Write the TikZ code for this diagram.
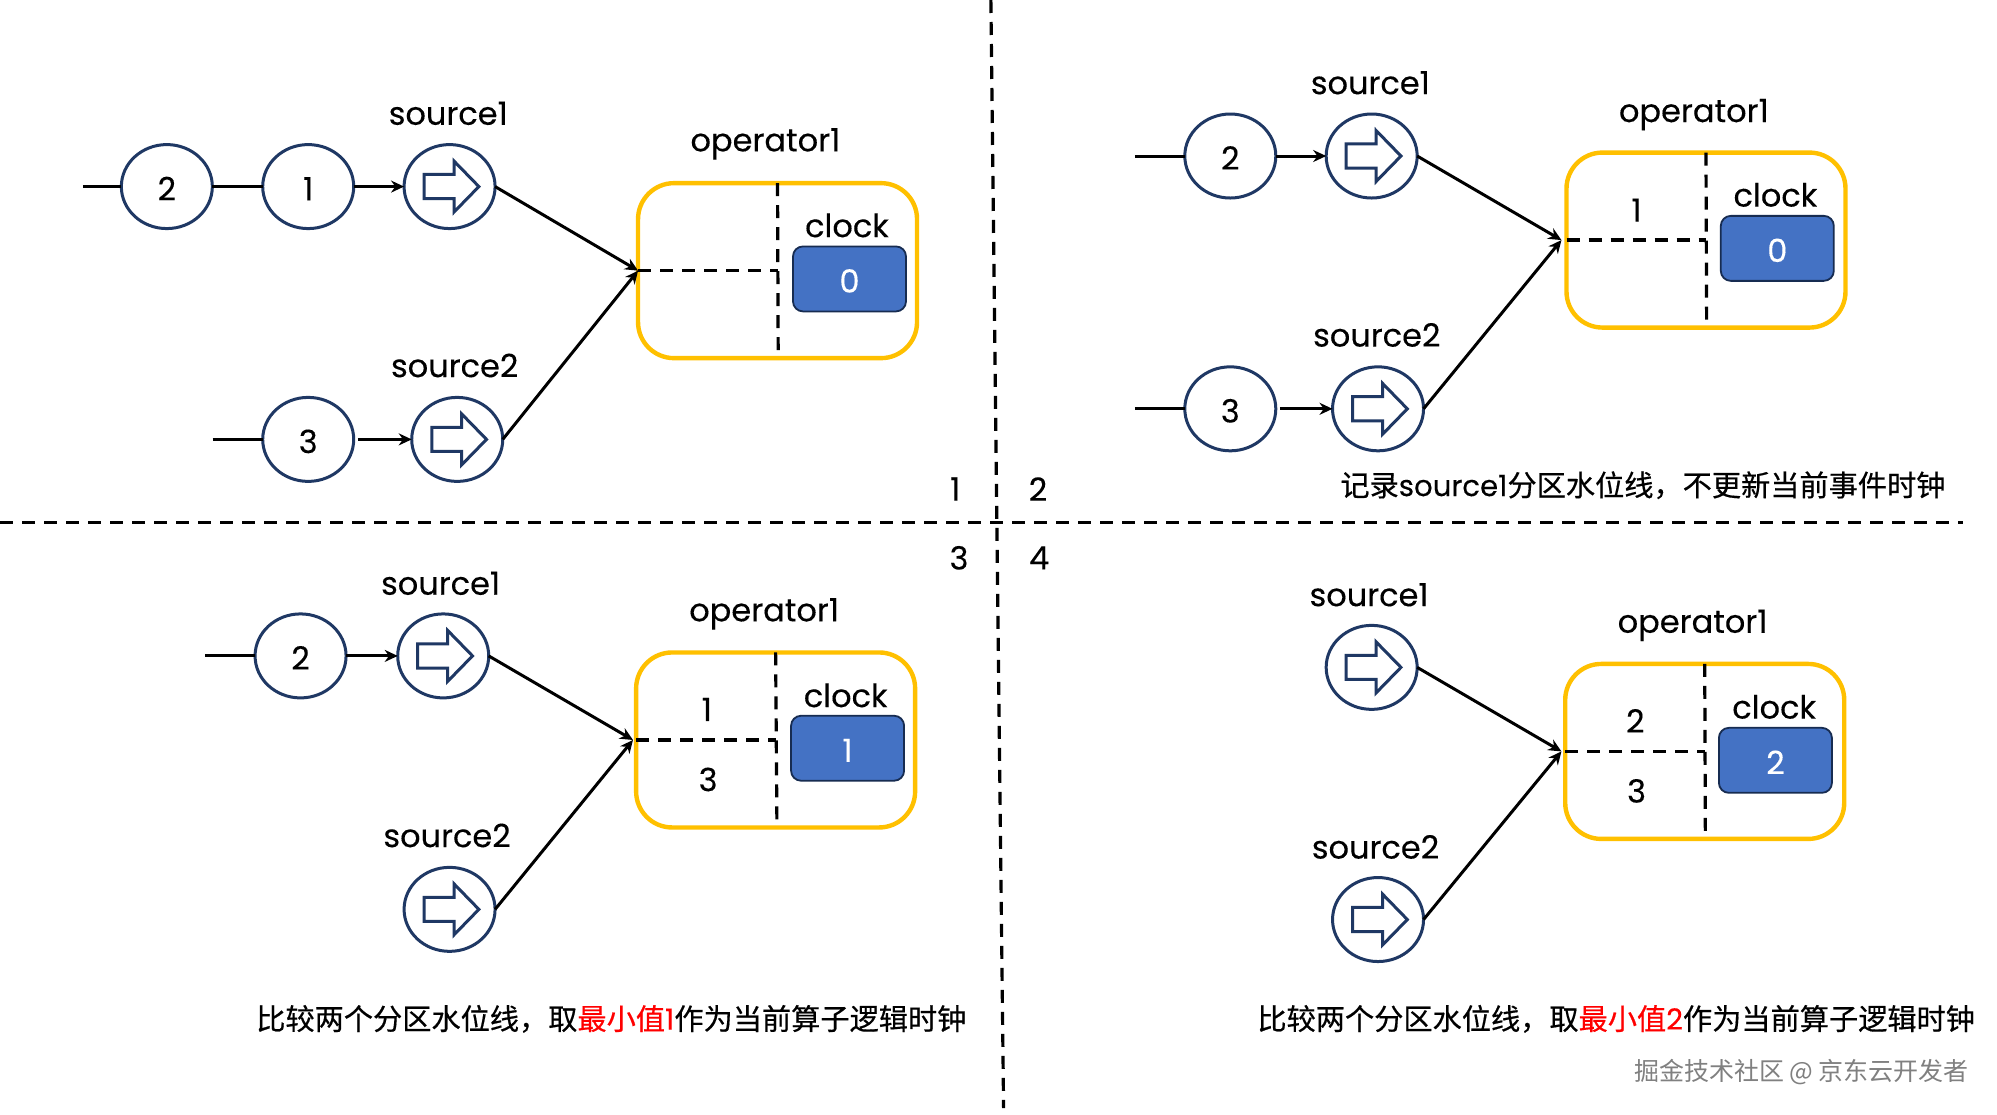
\documentclass[tikz,border=0pt]{standalone}
\usepackage{fontspec}
\setmainfont{Poppins}
\newfontfamily\cjk[FakeBold=0.5]{Noto Sans CJK SC}
\newfontfamily\cjkplain{Noto Sans CJK SC}
\newfontfamily\pop[FakeBold=0.2]{Poppins}
\usetikzlibrary{shapes.geometric,arrows.meta,calc}
\definecolor{navy}{HTML}{1F3864}
\definecolor{gold}{HTML}{FFC000}
\definecolor{clockblue}{HTML}{4472C4}
\definecolor{darkblue}{HTML}{172C51}
\tikzset{
  x=1.2736pt,y=-1.2736pt,
  every node/.style={inner sep=0pt,outer sep=0pt},
  ball/.style={ellipse,draw=navy,line width=3pt,fill=white,minimum width=91pt,minimum height=84pt,font=\fontsize{32}{34}\selectfont\pop},
  lbl/.style={font=\fontsize{32}{34}\selectfont\pop,text=black},
  opbox/.style={draw=gold,line width=4.4pt,rounded corners=36pt,minimum width=279pt,minimum height=175pt},
  clockbox/.style={draw=darkblue,line width=1.8pt,fill=clockblue,rounded corners=10pt,minimum width=113pt,minimum height=65pt,text=white,font=\fontsize{32}{34}\selectfont\pop},
  conn/.style={line width=3pt,draw=black},
  arrowconn/.style={conn,-{Stealth[length=13pt,width=12pt]}},
  slash/.style={line width=3.2pt,dash pattern=on 13pt off 9pt},
  innerdash/.style={line width=3.2pt,dash pattern=on 13pt off 9pt},
  glyph/.style={draw=navy,line width=3pt,fill=white,line join=miter},
  captext/.style={font=\fontsize{29.2}{32}\selectfont\cjk,text=black},
}
\newcommand{\srcglyph}[1]{\draw[glyph,shift={(#1.center)}] (-20,-9.5) -- (3.5,-9.5) -- (3.5,-20) -- (23,0) -- (3.5,20) -- (3.5,9.5) -- (-20,9.5) -- cycle;}
\newcommand{\low}[1]{\raisebox{-13.7pt}[0pt][0pt]{#1}}
\begin{document}
\begin{tikzpicture}
\useasboundingbox (0,0) rectangle (1568,875);
\fill[white] (0,0) rectangle (1568,875);
% quadrant dividers
\coordinate (vt) at (778,0);
\coordinate (vb) at (788,870);
\coordinate (hl) at (0,410);
\coordinate (hr) at (1541,410);
\draw[slash] (vt) -- (vb);
\draw[slash] (hl) -- (hr);
\node[lbl] (n1) at (750,384) {1};
\node[lbl] (n2) at (815,384) {2};
\node[lbl] (n3) at (753,438) {3};
\node[lbl] (n4) at (816,438) {4};

% ---- panel 1
\node[ball] (a2) at (131,146.5) {\low{2}};
\node[ball] (a1) at (242,146.5) {\low{1}};
\node[ball] (as1) at (353,146.5) {};
\node[ball] (a3) at (242,345) {\low{3}};
\node[ball] (as2) at (359,345) {};
\srcglyph{as1}\srcglyph{as2}
\coordinate (ai) at (65,146.5);
\coordinate (aj) at (167,345);
\coordinate (ak) at (281,345);
\coordinate (ah) at (501,212.5);
\draw[conn] (ai) -- (a2);
\draw[conn] (a2) -- (a1);
\draw[arrowconn] (a1) -- (as1);
\draw[conn] (aj) -- (a3);
\draw[arrowconn] (ak) -- (as2);
\node[lbl] (al1) at (352,89) {source1};
\node[lbl] (al2) at (357,287) {source2};
\node[lbl] (al3) at (601,113) {operator1};
\node[opbox] (ab) at (610.5,212.5) {};
\coordinate (abe) at (611,276);
\draw[innerdash] (ab.north) -- (abe);
\draw[innerdash] (ab.west) -- (ab.center);
\node[lbl] (ac) at (665,177) {clock};
\node[clockbox] (ar) at (667,219) {\low{0}};
\draw[arrowconn] (as1.east) -- (ah);
\draw[arrowconn] (as2.east) -- (ah);

% ---- panel 2
\node[ball] (b2) at (966,122.5) {\low{2}};
\node[ball] (bs1) at (1077,122.5) {};
\node[ball] (b3) at (966,321) {\low{3}};
\node[ball] (bs2) at (1082,321) {};
\srcglyph{bs1}\srcglyph{bs2}
\coordinate (bi) at (891,122.5);
\coordinate (bj) at (891,321);
\coordinate (bk) at (1005,321);
\coordinate (bh) at (1226,188.5);
\draw[conn] (bi) -- (b2);
\draw[arrowconn] (b2) -- (bs1);
\draw[conn] (bj) -- (b3);
\draw[arrowconn] (bk) -- (bs2);
\node[lbl] (bl1) at (1076,65) {source1};
\node[lbl] (bl2) at (1081,263) {source2};
\node[lbl] (bl3) at (1330,90) {operator1};
\node[opbox] (bb) at (1339.5,188.5) {};
\coordinate (bbe) at (1340,252);
\draw[innerdash] (bb.north) -- (bbe);
\draw[innerdash] (bb.west) -- (bb.center);
\node[lbl] (bc) at (1394,153) {clock};
\node[clockbox] (br) at (1395.5,195) {\low{0}};
\node[lbl] (bv) at (1285,165) {1};
\draw[arrowconn] (bs1.east) -- (bh);
\draw[arrowconn] (bs2.east) -- (bh);
\node[captext] (bt) at (1290,381) {记录{\pop source1}分区水位线，不更新当前事件时钟};

% ---- panel 3
\node[ball] (c2) at (236,515) {\low{2}};
\node[ball] (cs1) at (348,515) {};
\node[ball] (cs2) at (353,714) {};
\srcglyph{cs1}\srcglyph{cs2}
\coordinate (ci) at (161,515);
\coordinate (ch) at (497,581);
\draw[conn] (ci) -- (c2);
\draw[arrowconn] (c2) -- (cs1);
\node[lbl] (cl1) at (346,458) {source1};
\node[lbl] (cl2) at (351,656) {source2};
\node[lbl] (cl3) at (600,482) {operator1};
\node[opbox] (cb) at (609,581) {};
\coordinate (cbe) at (610,645);
\draw[innerdash] (cb.north) -- (cbe);
\draw[innerdash] (cb.west) -- (cb.center);
\node[lbl] (cc) at (664,546) {clock};
\node[clockbox] (cr) at (665.5,587.5) {\low{1}};
\node[lbl] (cv1) at (555,557) {1};
\node[lbl] (cv2) at (556,612) {3};
\draw[arrowconn] (cs1.east) -- (ch);
\draw[arrowconn] (cs2.east) -- (ch);
\node[captext] (ct) at (480,800) {比较两个分区水位线，取\textcolor{red}{最小值{\pop 1}}作为当前算子逻辑时钟};

% ---- panel 4
\node[ball] (ds1) at (1077,524) {};
\node[ball] (ds2) at (1082,722) {};
\srcglyph{ds1}\srcglyph{ds2}
\coordinate (dh) at (1226,590);
\node[lbl] (dl1) at (1075,467) {source1};
\node[lbl] (dl2) at (1080,665) {source2};
\node[lbl] (dl3) at (1329,491) {operator1};
\node[opbox] (db) at (1338.5,590) {};
\coordinate (dbe) at (1339,654);
\draw[innerdash] (db.north) -- (dbe);
\draw[innerdash] (db.west) -- (db.center);
\node[lbl] (dc) at (1393,555) {clock};
\node[clockbox] (dr) at (1394,597) {\low{2}};
\node[lbl] (dv1) at (1284,566) {2};
\node[lbl] (dv2) at (1285,621) {3};
\draw[arrowconn] (ds1.east) -- (dh);
\draw[arrowconn] (ds2.east) -- (dh);
\node[captext] (dt) at (1269,800) {比较两个分区水位线，取\textcolor{red}{最小值{\pop 2}}作为当前算子逻辑时钟};

% watermark
\node[font=\fontsize{25}{28}\selectfont\cjkplain,text=gray] (wm) at (1414.5,842) {掘金技术社区 @ 京东云开发者};
\end{tikzpicture}
\end{document}
